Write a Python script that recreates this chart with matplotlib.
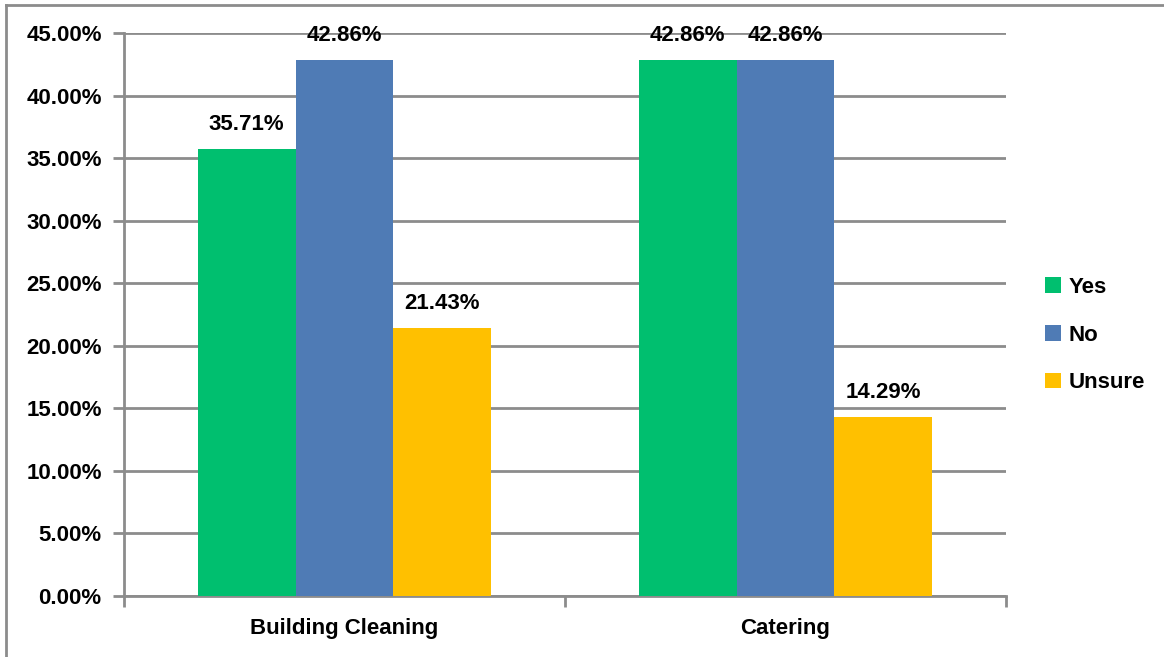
import numpy as np
import matplotlib.pyplot as plt
from matplotlib.lines import Line2D
from matplotlib.patches import Patch
from matplotlib.ticker import FuncFormatter

plt.rcParams['font.family'] = ['Liberation Sans', 'DejaVu Sans']
plt.rcParams['font.weight'] = 'bold'

categories = ['Building Cleaning', 'Catering']
series = ['Yes', 'No', 'Unsure']
values = {
    'Yes': [35.71, 42.86],
    'No': [42.86, 42.86],
    'Unsure': [21.43, 14.29],
}
colors = ['#00BF6F', '#4F7BB5', '#FFC000']

grid_color = '#8C8C8C'
fs = 16

fig = plt.figure(figsize=(11.64, 6.57), dpi=100)
ax = fig.add_axes([0.1065, 0.0928, 0.7578, 0.857])

x = np.arange(len(categories))
width = 0.222
for i, (name, col) in enumerate(zip(series, colors)):
    pos = x + (i - 1) * width
    bars = ax.bar(pos, values[name], width=width, color=col, zorder=3)
    for b, v in zip(bars, values[name]):
        ax.text(b.get_x() + b.get_width() / 2, v + 1.1, f'{v:.2f}%',
                ha='center', va='bottom', fontsize=fs, fontweight='bold')

ax.set_xlim(-0.5, len(categories) - 0.5)
ax.set_ylim(0, 45)
ax.set_yticks(np.arange(0, 46, 5))
ax.yaxis.set_major_formatter(FuncFormatter(lambda v, p: f'{v:.2f}%'))
ax.yaxis.grid(True, color=grid_color, linewidth=2, zorder=0)

# category ticks sit between the groups
ax.set_xticks(x)
ax.set_xticklabels(categories, fontsize=fs, fontweight='bold')
ax.set_xticks([-0.5, 0.5, 1.5], minor=True)
ax.tick_params(axis='x', which='major', length=0, pad=16)
ax.tick_params(axis='x', which='minor', length=8, width=2, color=grid_color, direction='out')
ax.tick_params(axis='y', length=8, width=2, color=grid_color, labelsize=fs, pad=8)
for lab in ax.get_yticklabels():
    lab.set_fontweight('bold')

for s in ['top', 'right']:
    ax.spines[s].set_visible(False)
for s in ['left', 'bottom']:
    ax.spines[s].set_color(grid_color)
    ax.spines[s].set_linewidth(2)

handles = [Patch(facecolor=c, label=n) for n, c in zip(series, colors)]
fig.legend(handles=handles, loc='center left', bbox_to_anchor=(0.881, 0.49),
           frameon=False, fontsize=fs, handlelength=0.7, handleheight=0.7,
           handletextpad=0.35, labelspacing=1.2)

# outer frame along the top and left edge
fig.add_artist(Line2D([0.005, 1.0], [0.993, 0.993], color=grid_color, linewidth=2))
fig.add_artist(Line2D([0.0055, 0.0055], [0.0, 0.993], color=grid_color, linewidth=2))

fig.savefig('out.png', dpi=100)
